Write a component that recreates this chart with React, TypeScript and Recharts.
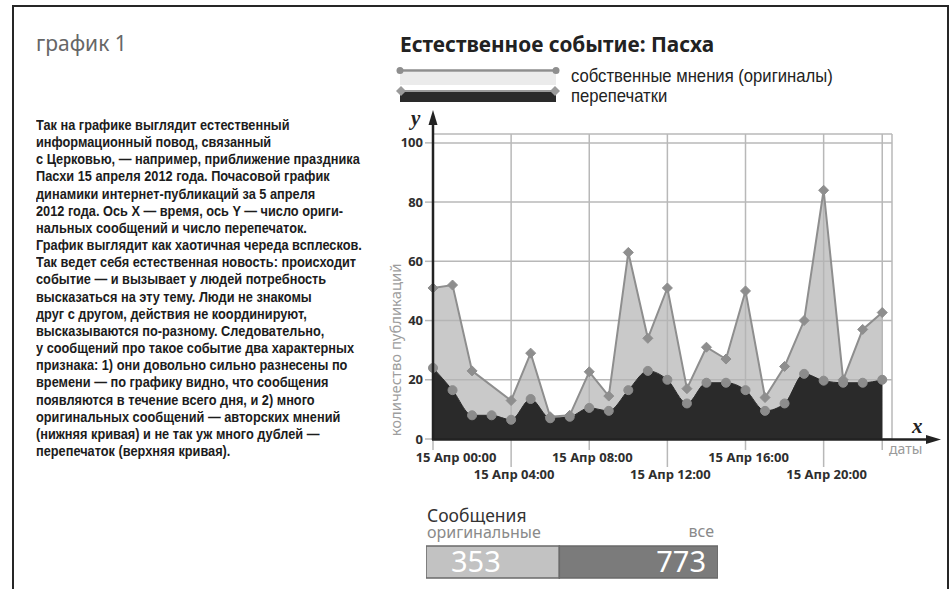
import React from "react";
import {
  AreaChart,
  Area,
  XAxis,
  YAxis,
  CartesianGrid,
  BarChart,
  Bar,
  LabelList,
} from "recharts";

// почасовые точки 15 апреля
const hours = [0, 1, 2, 3, 4, 5, 6, 7, 8, 9, 10, 11, 12, 13, 14, 15, 16, 17, 18, 19, 20, 21, 22, 23];
const allPosts = [51, 52, 23, null, 13, 29, 7.5, 8, 22.7, 14.5, 63, 34, 51, 17, 31, 27, 50, 14, 24.5, 40, 84, 20, 37, 42.7];
const originalPosts = [24, 16.5, 8, 8, 6.5, 13.5, 7, 7.5, 10.5, 9.5, 16.5, 23, 20, 12, 19, 19, 16.5, 9.5, 12, 22, 19.7, 19, 19, 20];

const xTicks = [0, 4, 8, 12, 16, 20, 23];
const xTickLabels: Record<number, string> = {
  0: "15 Апр 00:00",
  4: "15 Апр 04:00",
  8: "15 Апр 08:00",
  12: "15 Апр 12:00",
  16: "15 Апр 16:00",
  20: "15 Апр 20:00",
};
const yTicks = [0, 20, 40, 60, 80, 100];

const msgOriginal = 353;
const msgAll = 773;

const chartData = hours.map((h, i) => ({
  hour: h,
  all: allPosts[i],
  original: originalPosts[i],
}));

const barData = [
  { name: "Сообщения", original: msgOriginal, rest: msgAll - msgOriginal, all: msgAll },
];

const textLines = [
  "Так на графике выглядит естественный",
  "информационный повод, связанный",
  "с Церковью, — например, приближение праздника",
  "Пасхи 15 апреля 2012 года. Почасовой график",
  "динамики интернет-публикаций за 5 апреля",
  "2012 года. Ось X — время, ось Y — число ориги-",
  "нальных сообщений и число перепечаток.",
  "График выглядит как хаотичная череда всплесков.",
  "Так ведет себя естественная новость: происходит",
  "событие — и вызывает у людей потребность",
  "высказаться на эту тему. Люди не знакомы",
  "друг с другом, действия не координируют,",
  "высказываются по-разному. Следовательно,",
  "у сообщений про такое событие два характерных",
  "признака: 1) они довольно сильно разнесены по",
  "времени — по графику видно, что сообщения",
  "появляются в течение всего дня, и 2) много",
  "оригинальных сообщений — авторских мнений",
  "(нижняя кривая) и не так уж много дублей —",
  "перепечаток (верхняя кривая).",
];

const SANS = "'Noto Sans', 'Open Sans', sans-serif";
const ARIAL = "'Liberation Sans', Arial, sans-serif";

function Diamond(props: any) {
  const { cx, cy, value } = props;
  if (cx == null || cy == null || value == null) return null;
  const r = 5;
  return (
    <polygon
      points={`${cx},${cy - r} ${cx + r},${cy} ${cx},${cy + r} ${cx - r},${cy}`}
      fill="#8e8e8e"
      stroke="#8e8e8e"
      strokeWidth={1}
    />
  );
}

function XTick(props: any) {
  const { x, y, payload } = props;
  const v = payload.value;
  const label = xTickLabels[v];
  const secondRow = v % 8 === 4;
  const tickEnd = label ? (secondRow ? 28 : 11) : 11;
  const dx = v === 0 ? 23 : 3;
  return (
    <g>
      <line x1={x} y1={y} x2={x} y2={y + tickEnd} stroke="#b8b8b8" strokeWidth={1.5} />
      {label && (
        <text
          x={x + dx}
          y={y + (secondRow ? 40 : 23)}
          textAnchor="middle"
          fontFamily={SANS}
          fontWeight={700}
          fontSize={13}
          fill="#2e2e2e"
        >
          {label}
        </text>
      )}
    </g>
  );
}

export default function App() {
  return (
    <div
      style={{
        position: "absolute",
        left: 0,
        top: 0,
        width: 952,
        height: 589,
        background: "#fff",
        overflow: "hidden",
        fontFamily: SANS,
      }}
    >
      <div
        style={{
          position: "absolute",
          left: 12,
          top: 5,
          width: 933,
          height: 640,
          border: "2.5px solid #262626",
        }}
      />

      <div style={{ position: "absolute", left: 36, top: 29, fontSize: 21, color: "#666", lineHeight: "28px" }}>
        график 1
      </div>

      <div
        style={{
          position: "absolute",
          left: 36,
          top: 117,
          fontFamily: ARIAL,
          fontWeight: 700,
          fontSize: 14.5,
          lineHeight: "17.16px",
          color: "#1c1c1c",
          whiteSpace: "nowrap",
          transform: "scaleX(0.88)",
          transformOrigin: "0 0",
        }}
      >
        {textLines.map((t, i) => (
          <div key={i}>{t}</div>
        ))}
      </div>

      <div
        style={{
          position: "absolute",
          left: 400,
          top: 30,
          fontSize: 20.8,
          fontWeight: 700,
          color: "#222",
          lineHeight: "28px",
        }}
      >
        Естественное событие: Пасха
      </div>

      {/* легенда */}
      <svg style={{ position: "absolute", left: 396, top: 62 }} width={166} height={44}>
        <rect x={4} y={10} width={156} height={13} fill="#ebebeb" />
        <line x1={4} y1={8.5} x2={160} y2={8.5} stroke="#8e8e8e" strokeWidth={2.5} />
        <circle cx={4} cy={8.5} r={3.5} fill="#8e8e8e" />
        <circle cx={160} cy={8.5} r={3.5} fill="#8e8e8e" />
        <rect x={4} y={28} width={156} height={12} fill="#2a2a2a" />
        <line x1={4} y1={29} x2={160} y2={29} stroke="#9a9a9a" strokeWidth={2} />
        <polygon points="4,24 9,29 4,34 -1,29" fill="#9a9a9a" transform="translate(1,0)" />
        <polygon points="160,24 165,29 160,34 155,29" fill="#9a9a9a" transform="translate(-1,0)" />
      </svg>
      <div
        style={{
          position: "absolute",
          left: 571,
          top: 66,
          fontFamily: ARIAL,
          fontSize: 18.5,
          color: "#222",
          lineHeight: "20px",
          whiteSpace: "nowrap",
          transform: "scaleX(0.9)",
          transformOrigin: "0 0",
        }}
      >
        <div>собственные мнения (оригиналы)</div>
        <div>перепечатки</div>
      </div>

      <div style={{ position: "absolute", left: 0, top: 0 }}>
        <AreaChart
          width={952}
          height={589}
          data={chartData}
          margin={{ top: 134, right: 60, bottom: 100, left: 383 }}
        >
          <CartesianGrid stroke="#b8b8b8" strokeWidth={1.5} />
          <XAxis
            dataKey="hour"
            type="number"
            domain={[0, 23.5]}
            ticks={xTicks}
            height={50}
            axisLine={false}
            tickLine={false}
            tickSize={0}
            tickMargin={0}
            tick={<XTick />}
            interval={0}
          />
          <YAxis
            type="number"
            domain={[0, 103]}
            ticks={yTicks}
            width={50}
            axisLine={false}
            tickSize={8}
            tickMargin={2}
            tickLine={{ stroke: "#b8b8b8", strokeWidth: 1.5 }}
            tick={{ fill: "#2e2e2e", fontSize: 13, fontWeight: 700, fontFamily: SANS }}
          />
          <Area
            type="linear"
            dataKey="all"
            connectNulls
            stroke="#8e8e8e"
            strokeWidth={2}
            fill="#b4b4b4"
            fillOpacity={0.72}
            dot={<Diamond />}
            activeDot={false}
            isAnimationActive={false}
          />
          <Area
            type="monotone"
            dataKey="original"
            stroke="#2a2a2a"
            strokeWidth={1}
            fill="#2a2a2a"
            fillOpacity={1}
            dot={{ r: 4.5, fill: "#8c8c8c", stroke: "#8c8c8c", strokeWidth: 1 }}
            activeDot={false}
            isAnimationActive={false}
          />
        </AreaChart>
      </div>

      {/* оси со стрелками */}
      <svg style={{ position: "absolute", left: 0, top: 0, pointerEvents: "none" }} width={952} height={589}>
        <line x1={433} y1={440} x2={433} y2={120} stroke="#222" strokeWidth={2.5} />
        <polygon points="433,110 428.5,125 437.5,125" fill="#222" />
        <line x1={432} y1={439.5} x2={928} y2={439.5} stroke="#222" strokeWidth={2.5} />
        <polygon points="941,439.5 926,435 926,444" fill="#222" />
        <text x={411} y={125} fontFamily="'Liberation Serif', serif" fontStyle="italic" fontWeight={700} fontSize={21} fill="#222">
          y
        </text>
        <text x={912} y={433} fontFamily="'Liberation Serif', serif" fontStyle="italic" fontWeight={700} fontSize={21} fill="#222">
          x
        </text>
        <text x={889} y={454} fontFamily={SANS} fontSize={14} fill="#9a9a9a">
          даты
        </text>
        <text
          x={397}
          y={350}
          transform="rotate(-90 397 350)"
          textAnchor="middle"
          dominantBaseline="middle"
          fontFamily={SANS}
          fontSize={14.8}
          fill="#9d9d9d"
        >
          количество публикаций
        </text>
      </svg>

      {/* итог по сообщениям */}
      <div style={{ position: "absolute", left: 427, top: 508, fontSize: 17.5, color: "#333", lineHeight: "14px" }}>
        Сообщения
      </div>
      <div style={{ position: "absolute", left: 427, top: 525, fontSize: 16, color: "#8a8a8a", lineHeight: "14px" }}>
        оригинальные
      </div>
      <div style={{ position: "absolute", left: 680, width: 34, top: 524, fontSize: 16, color: "#8a8a8a", lineHeight: "14px", textAlign: "right" }}>
        все
      </div>
      <div style={{ position: "absolute", left: 426, top: 540 }}>
        <BarChart width={292} height={44} data={barData} layout="vertical" margin={{ top: 6, right: 0, bottom: 6, left: 0 }} barCategoryGap={0}>
          <XAxis type="number" domain={[0, msgAll]} hide />
          <YAxis type="category" dataKey="name" hide />
          <Bar dataKey="original" stackId="m" fill="#c2c2c2" stroke="#6a6a6a" strokeWidth={1.5} isAnimationActive={false}>
            <LabelList dataKey="original" position="insideLeft" offset={25} fill="#fff" fontSize={29} fontFamily={SANS} />
          </Bar>
          <Bar dataKey="rest" stackId="m" fill="#7b7b7b" stroke="#6a6a6a" strokeWidth={1.5} isAnimationActive={false}>
            <LabelList dataKey="all" position="insideRight" offset={12} fill="#fff" fontSize={29} fontFamily={SANS} />
          </Bar>
        </BarChart>
      </div>
    </div>
  );
}
